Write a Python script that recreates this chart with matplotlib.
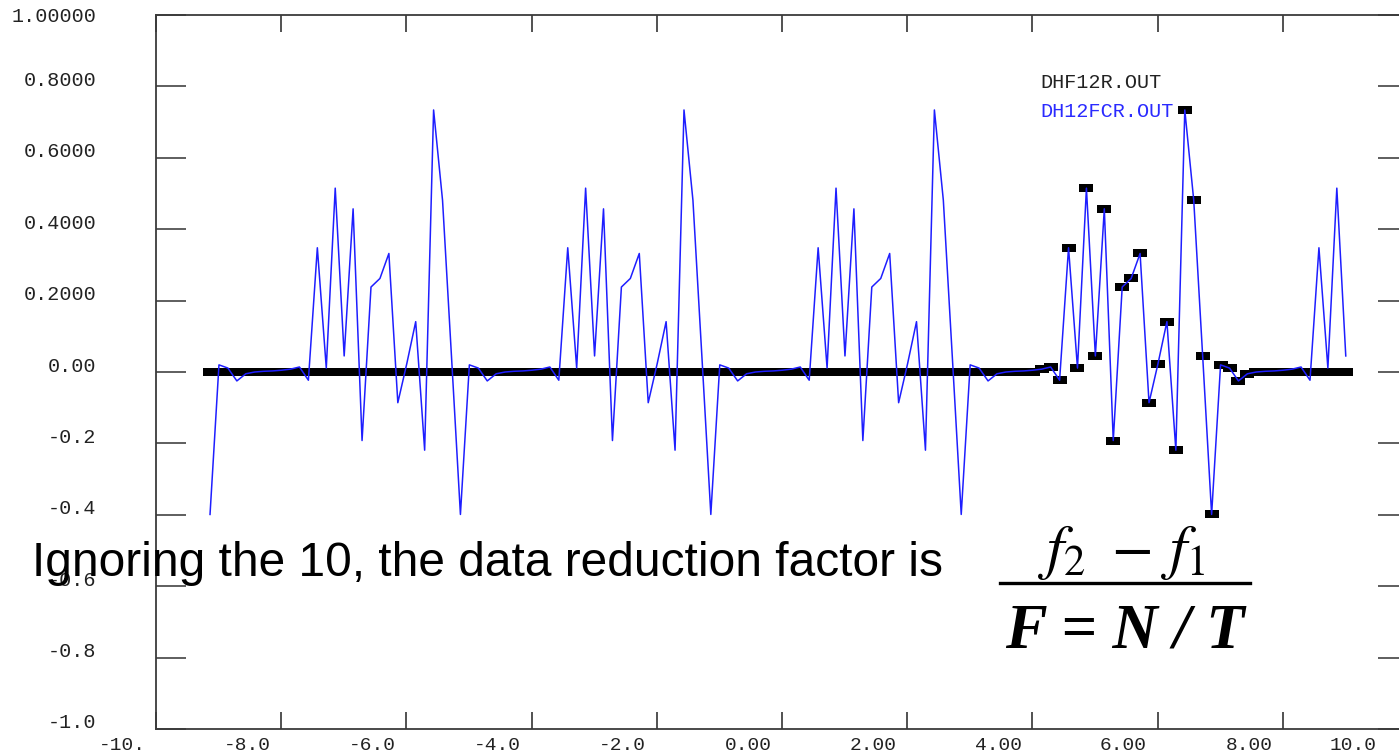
import numpy as np
import matplotlib
matplotlib.use('Agg')
import matplotlib.pyplot as plt
from matplotlib.transforms import ScaledTranslation
from matplotlib.lines import Line2D

# one period of DH12FCR.OUT (28 samples, step 1/7)
period = [-0.399, 0.020, 0.011, -0.025, -0.005, 0.000, 0.002, 0.003, 0.005, 0.008,
          0.014, -0.023, 0.348, 0.011, 0.515, 0.045, 0.457, -0.192, 0.238, 0.262,
          0.332, -0.086, 0.023, 0.141, -0.219, 0.734, 0.481, 0.044]
x_start = -9.137
x_step = 1 / 7

# the signal repeats 4.5 times over the range
fcr = period * 4 + period[:16]
x = x_start + x_step * np.arange(len(fcr))

# DHF12R.OUT follows the signal only between samples 93..116, zero elsewhere
r_first, r_last = 93, 116
dhf = [v if r_first <= i <= r_last else 0.0 for i, v in enumerate(fcr)]

xticks = [-10, -8, -6, -4, -2, 0, 2, 4, 6, 8, 10]
xlabels = ['-10.', '-8.0', '-6.0', '-4.0', '-2.0', '0.00', '2.00', '4.00', '6.00', '8.00', '10.0']
yticks = [-1.0, -0.8, -0.6, -0.4, -0.2, 0.0, 0.2, 0.4, 0.6, 0.8, 1.0]
ylabels = ['-1.0', '-0.8', '-0.6', '-0.4', '-0.2', '0.00', '0.2000', '0.4000', '0.6000', '0.8000', '1.00000']

plt.rcParams['font.family'] = ['Liberation Mono', 'DejaVu Sans Mono']
plt.rcParams['mathtext.fontset'] = 'stix'

W, H = 1399, 756
fig = plt.figure(figsize=(W / 100, H / 100), dpi=100)
ax = fig.add_axes([156 / W, 27 / H, 1252 / W, 714 / H])

# black rectangle marker (wide)
rect = [(-1, -0.58), (1, -0.58), (1, 0.58), (-1, 0.58), (-1, -0.58)]
ax.plot(x, dhf, linestyle='none', marker=rect, markersize=9.4,
        markerfacecolor='black', markeredgewidth=0, color='black', zorder=2)
ax.plot(x, fcr, color='#1e1eff', lw=1.1, zorder=3)

ax.set_xlim(-10, 10)
ax.set_ylim(-1, 1)
ax.set_xticks(xticks)
ax.set_xticklabels(xlabels)
ax.set_yticks(yticks)
ax.set_yticklabels(ylabels)

for s in ax.spines.values():
    s.set_color('#3a3a3a')
    s.set_linewidth(1.3)

ax.tick_params(axis='x', direction='in', length=12, width=1.1, color='#222222',
               top=True, bottom=True, pad=5.5, labelsize=14, labelcolor='#222222')
ax.tick_params(axis='y', direction='in', length=21.6, width=1.1, color='#333333',
               left=True, right=True, pad=43, labelsize=14.5, labelcolor='#222222')

# labels in the original sit left of / above their ticks
for i, lab in enumerate(ax.get_xticklabels()):
    dx = -55 if i == len(xticks) - 1 else -34
    lab.set_transform(lab.get_transform() + ScaledTranslation(dx / 100, 0, fig.dpi_scale_trans))
for i, lab in enumerate(ax.get_yticklabels()):
    dy = 0 if i == len(yticks) - 1 else 8
    lab.set_transform(lab.get_transform() + ScaledTranslation(0, dy / 100, fig.dpi_scale_trans))

ax.text(0.706, 0.906, 'DHF12R.OUT', transform=ax.transAxes, color='#222222',
        fontsize=14.5, va='center', ha='left')
ax.text(0.706, 0.8655, 'DH12FCR.OUT', transform=ax.transAxes, color='#2a2aff',
        fontsize=14.5, va='center', ha='left')

# slide overlay
fig.text(32 / W, 1 - 576 / H, 'Ignoring the 10, the data reduction factor is',
         fontsize=34.5, family=['Liberation Sans Narrow', 'Liberation Sans'],
         va='baseline', ha='left', color='black')
fig.text(1122 / W, 1 - 567 / H, r'$f_{2}\ -\, f_{1}$', fontsize=44,
         ha='center', va='baseline', color='black')
fig.add_artist(Line2D([1000 / W, 1250 / W], [1 - 583 / H, 1 - 583 / H],
                      transform=fig.transFigure, color='black', lw=2.4))
fig.text(1125 / W, 1 - 648 / H, 'F = N / T', fontsize=45, family='Liberation Serif',
         style='italic', weight='bold', ha='center', va='baseline', color='black')

fig.savefig('out.png', dpi=100, facecolor='white')
